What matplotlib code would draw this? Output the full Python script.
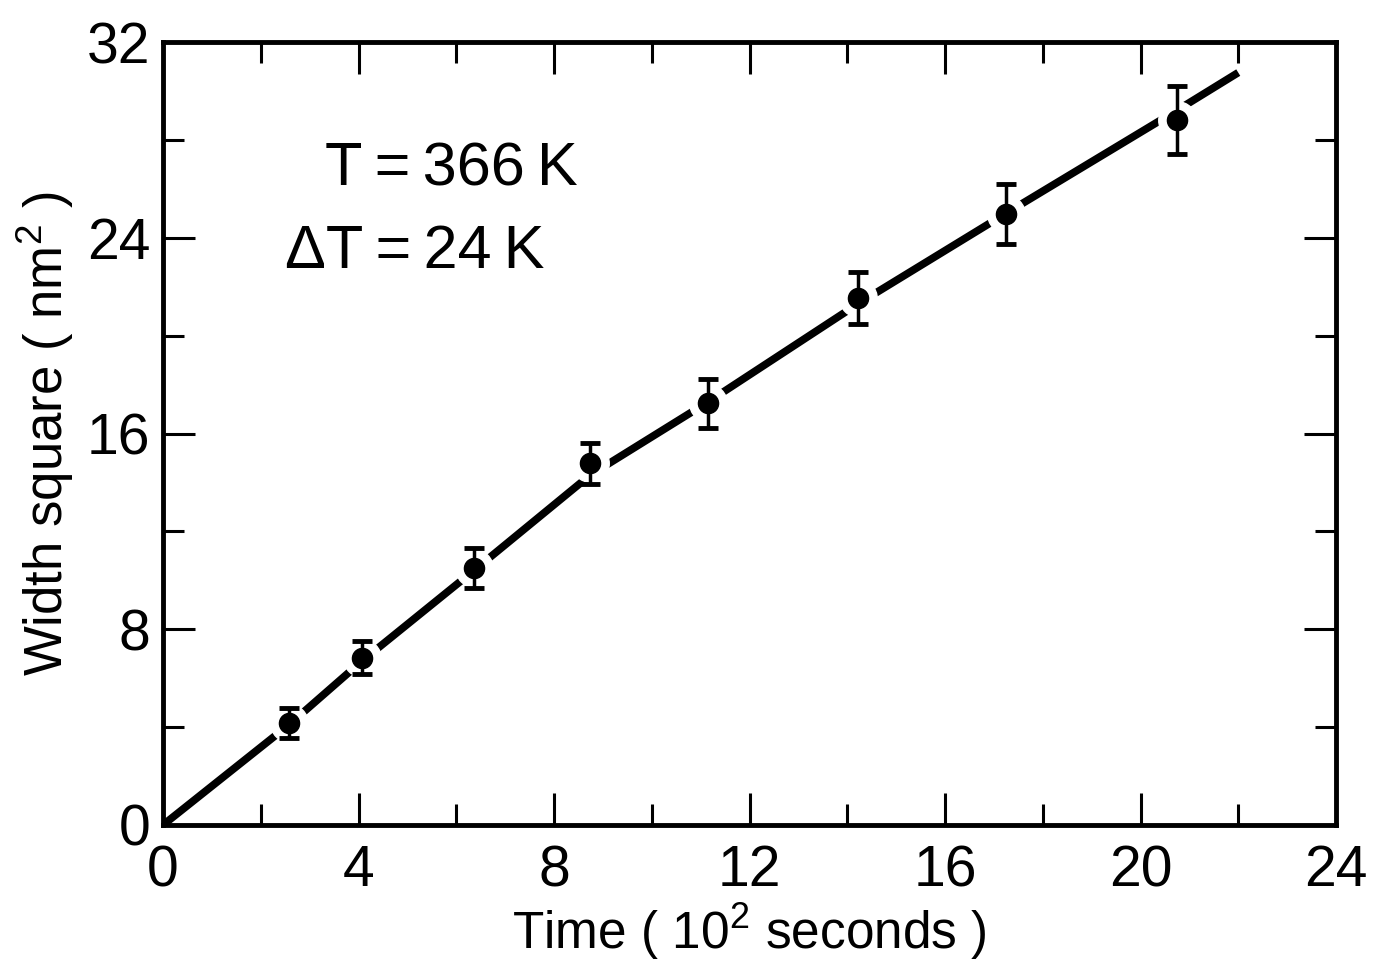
import matplotlib
matplotlib.use("Agg")
import matplotlib.pyplot as plt
from matplotlib.ticker import MultipleLocator

plt.rcParams['font.family'] = ['Liberation Sans', 'DejaVu Sans']
plt.rcParams['mathtext.fontset'] = 'custom'
plt.rcParams['mathtext.rm'] = 'Liberation Sans'
plt.rcParams['mathtext.it'] = 'Liberation Sans:italic'
plt.rcParams['mathtext.bf'] = 'Liberation Sans:bold'

# Measured widths squared (nm^2) vs annealing time (10^2 s)
time_pts = [2.58, 4.07, 6.36, 8.74, 11.16, 14.22, 17.25, 20.74]
width_sq = [4.18, 6.84, 10.50, 14.78, 17.23, 21.54, 24.97, 28.81]
width_err = [0.62, 0.68, 0.82, 0.85, 1.00, 1.06, 1.23, 1.40]

# Hand-drawn guide line through the data
line_t = [0.0, 2.58, 4.07, 6.36, 8.74, 11.16, 14.22, 17.25, 20.74, 22.0]
line_w = [0.0, 4.10, 6.70, 10.40, 14.30, 17.30, 21.30, 25.00, 29.20, 30.75]

x_ticks = [0, 4, 8, 12, 16, 20, 24]
y_ticks = [0, 8, 16, 24, 32]

fig = plt.figure(figsize=(13.76, 9.65), dpi=100)
ax = fig.add_axes([163 / 1376, 140 / 965, 1173 / 1376, 783 / 965])

ax.plot(line_t, line_w, color='black', lw=5.5, solid_capstyle='butt',
        solid_joinstyle='round', zorder=2)
# white halo that breaks the line around each point
ax.plot(time_pts, width_sq, 'o', color='white', ms=27, mec='white', zorder=3)
ax.errorbar(time_pts, width_sq, yerr=width_err, fmt='none', ecolor='black',
            elinewidth=2.5, capsize=7.5, capthick=3.5, zorder=4)
ax.plot(time_pts, width_sq, 'o', color='black', ms=14.5, zorder=5)

ax.set_xlim(0, 24)
ax.set_ylim(0, 32)
ax.set_xticks(x_ticks)
ax.set_yticks(y_ticks)
ax.xaxis.set_minor_locator(MultipleLocator(2))
ax.yaxis.set_minor_locator(MultipleLocator(4))
ax.tick_params(which='both', direction='in', top=True, right=True,
               width=2.2, labelsize=41)
ax.tick_params(which='major', length=23)
ax.tick_params(which='minor', length=15)
ax.tick_params(axis='x', pad=14)
ax.tick_params(axis='y', pad=9)
for s in ax.spines.values():
    s.set_linewidth(3.5)

ax.set_xlabel('Time ( 10$^{2}$ seconds )', fontsize=37, labelpad=2)
ax.set_ylabel('Width square ( nm$^{2}$ )', fontsize=38, labelpad=8)

thin = '\u2009'
ax.text(3.31, 26.15, f'T{thin}={thin}366{thin}K', fontsize=44,
        ha='left', va='baseline')
ax.text(2.5, 22.76, f'\u0394T{thin}={thin}24{thin}K', fontsize=44,
        ha='left', va='baseline')

fig.savefig('out.png', dpi=100)
